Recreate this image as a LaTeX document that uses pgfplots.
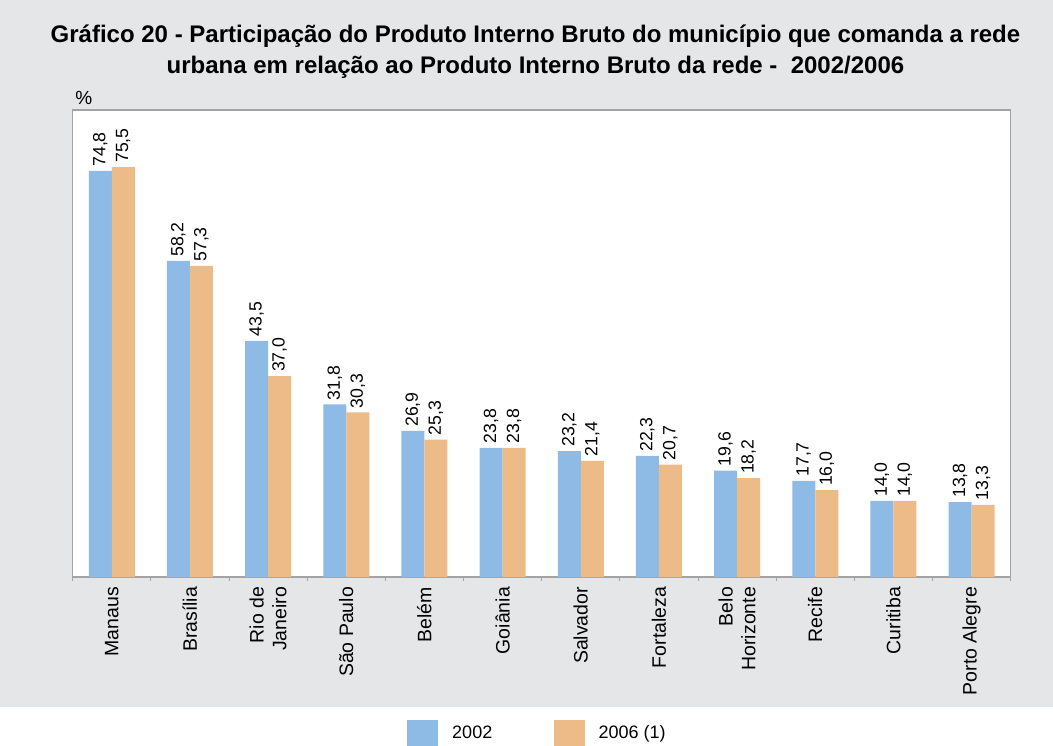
\documentclass[border=0pt]{standalone}
\usepackage{fontspec}
\setmainfont{Liberation Sans}
\usepackage{pgfplots}
\pgfplotsset{compat=1.18}
\definecolor{bgray}{HTML}{E5E6E8}
\definecolor{axgray}{HTML}{A3A3A3}
\definecolor{cblue}{HTML}{8DBBE5}
\definecolor{corange}{HTML}{ECBB88}
\begin{document}
\begin{tikzpicture}
\fill[white] (0pt,0pt) rectangle (789.75pt,-559.5pt);
\fill[bgray] (0pt,0pt) rectangle (789.75pt,-530.25pt);
\node[anchor=base, inner sep=0pt, font=\bfseries\fontsize{18pt}{20pt}\selectfont] at (401.6pt,-31.5pt) {Gráfico 20 - Participação do Produto Interno Bruto do município que comanda a rede};
\node[anchor=base, inner sep=0pt, font=\bfseries\fontsize{18pt}{20pt}\selectfont] at (401.6pt,-54.75pt) {urbana em relação ao Produto Interno Bruto da rede -\ \ 2002/2006};
\node[anchor=base west, inner sep=0pt, font=\fontsize{14.25pt}{16pt}\selectfont] at (56.25pt,-78pt) {\%};
\begin{axis}[
  at={(54.5pt,-432.75pt)}, anchor=south west,
  width=703.5pt, height=350.25pt, scale only axis,
  axis background/.style={fill=white},
  ybar=0pt, bar width=17.25pt,
  ymin=0, ymax=86, xmin=-0.5, xmax=11.5,
  ytick=\empty,
  xtick={0,...,11},
  xticklabels={Manaus, Brasília, {Rio de\\Janeiro}, São Paulo, Belém, Goiânia, Salvador, Fortaleza, {Belo\\Horizonte}, Recife, Curitiba, Porto Alegre},
  major tick length=0pt,
  minor xtick={-0.5,0.5,...,11.5},
  minor tick length=3pt,
  tick align=outside,
  xtick pos=left,
  axis line style={draw=axgray, line width=1pt},
  every tick/.style={axgray, line width=0.75pt},
  xticklabel shift=4pt,
  xticklabel style={rotate=90, anchor=east, align=right, font=\fontsize{14.6pt}{17pt}\selectfont},
  nodes near coords,
  nodes near coords style={rotate=90, anchor=west, inner sep=3pt, font=\fontsize{13.25pt}{15pt}\selectfont},
  /pgf/number format/use comma,
  /pgf/number format/fixed,
  /pgf/number format/fixed zerofill,
  /pgf/number format/precision=1,
  /pgf/number format/assume math mode=true,
  clip=false,
  legend columns=2,
  legend style={at={(0.3564,-0.334)}, anchor=west, draw=none, fill=none, inner sep=0pt,
    font=\fontsize{13.5pt}{15pt}\selectfont,
    /tikz/every odd column/.append style={column sep=8.5pt},
    /tikz/every even column/.append style={column sep=44pt}},
  legend image code/.code={\fill[#1] (0pt,-9.75pt) rectangle (23.25pt,9.75pt);},
]
\addplot[fill=cblue, draw=none] coordinates {(0,74.8) (1,58.2) (2,43.5) (3,31.8) (4,26.9) (5,23.8) (6,23.2) (7,22.3) (8,19.6) (9,17.7) (10,14.0) (11,13.8)};
\addlegendentry{2002}
\addplot[fill=corange, draw=none] coordinates {(0,75.5) (1,57.3) (2,37.0) (3,30.3) (4,25.3) (5,23.8) (6,21.4) (7,20.7) (8,18.2) (9,16.0) (10,14.0) (11,13.3)};
\addlegendentry{2006 (1)}
\end{axis}
\pgfresetboundingbox
\path (0pt,0pt) rectangle (789.75pt,-559.5pt);
\end{tikzpicture}
\end{document}
